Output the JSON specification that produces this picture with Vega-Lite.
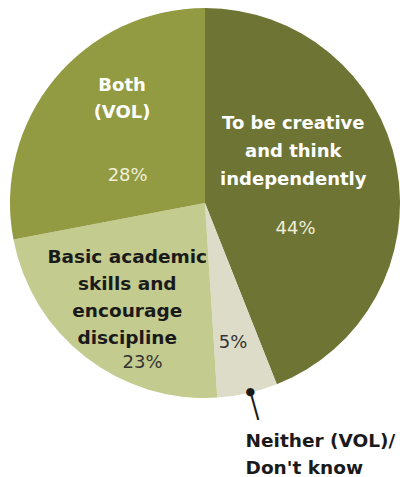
{
  "$schema": "https://vega.github.io/schema/vega-lite/v6.json",
  "width": 410,
  "height": 406,
  "autosize": {"type": "none"},
  "padding": {"left": 0, "top": 0, "right": -10, "bottom": 71},
  "background": "white",
  "config": {"view": {"stroke": null}},
  "data": {
    "values": [
      {"cat": "creative", "label": "To be creative\nand think\nindependently", "pct": 44, "pctText": "44%", "rank": 1},
      {"cat": "neither", "label": "Neither (VOL)/\nDon't know", "pct": 5, "pctText": "5%", "rank": 2},
      {"cat": "basic", "label": "Basic academic\nskills and\nencourage\ndiscipline", "pct": 23, "pctText": "23%", "rank": 3},
      {"cat": "both", "label": "Both\n(VOL)", "pct": 28, "pctText": "28%", "rank": 4}
    ]
  },
  "encoding": {
    "theta": {"field": "pct", "type": "quantitative", "stack": true},
    "order": {"field": "rank", "type": "quantitative"}
  },
  "layer": [
    {
      "mark": {"type": "arc", "outerRadius": 195},
      "encoding": {
        "color": {
          "field": "cat",
          "type": "nominal",
          "scale": {"domain": ["creative", "neither", "basic", "both"], "range": ["#6e7434", "#dcdcc8", "#c4cb8e", "#939b42"]},
          "legend": null
        }
      }
    },
    {
      "mark": {"type": "text", "radius": 209, "dx": 4, "dy": 0, "angle": 344.6, "fontSize": 26, "font": "DejaVu Sans", "fill": "#1a1a1a", "align": "center", "baseline": "middle"},
      "encoding": {"text": {"condition": {"test": "datum.cat === 'neither'", "value": "│"}, "value": ""}}
    },
    {
      "mark": {"type": "text", "radius": 194, "dx": 3, "dy": 0, "fontSize": 11, "font": "DejaVu Sans", "fill": "#1a1a1a", "align": "center", "baseline": "middle"},
      "encoding": {"text": {"condition": {"test": "datum.cat === 'neither'", "value": "●"}, "value": ""}}
    },
    {
      "mark": {"type": "text", "radius": 96, "dx": -6, "dy": -61, "fontSize": 18, "font": "DejaVu Sans", "fontWeight": "bold", "fill": "#ffffff", "align": "center", "baseline": "middle", "lineBreak": "\n", "lineHeight": 28},
      "encoding": {"text": {"condition": {"test": "datum.cat === 'creative'", "field": "label"}, "value": ""}}
    },
    {
      "mark": {"type": "text", "radius": 85, "dx": 7, "dy": 42, "fontSize": 18, "font": "DejaVu Sans", "fill": "#eeeed8", "align": "center", "baseline": "middle"},
      "encoding": {"text": {"condition": {"test": "datum.cat === 'creative'", "field": "pctText"}, "value": ""}}
    },
    {
      "mark": {"type": "text", "radius": 131, "dx": 18, "dy": -33, "fontSize": 18, "font": "DejaVu Sans", "fontWeight": "bold", "fill": "#ffffff", "align": "center", "baseline": "middle", "lineBreak": "\n", "lineHeight": 27},
      "encoding": {"text": {"condition": {"test": "datum.cat === 'both'", "field": "label"}, "value": ""}}
    },
    {
      "mark": {"type": "text", "radius": 77, "dx": -18, "dy": 22, "fontSize": 18, "font": "DejaVu Sans", "fill": "#eeeed8", "align": "center", "baseline": "middle"},
      "encoding": {"text": {"condition": {"test": "datum.cat === 'both'", "field": "pctText"}, "value": ""}}
    },
    {
      "mark": {"type": "text", "radius": 122, "dx": -3, "dy": -42, "fontSize": 18.5, "font": "DejaVu Sans", "fontWeight": "bold", "fill": "#1a1a1a", "align": "center", "baseline": "middle", "lineBreak": "\n", "lineHeight": 27},
      "encoding": {"text": {"condition": {"test": "datum.cat === 'basic'", "field": "label"}, "value": ""}}
    },
    {
      "mark": {"type": "text", "radius": 164, "dx": 38, "dy": 30, "fontSize": 18, "font": "DejaVu Sans", "fill": "#333333", "align": "center", "baseline": "middle"},
      "encoding": {"text": {"condition": {"test": "datum.cat === 'basic'", "field": "pctText"}, "value": ""}}
    },
    {
      "mark": {"type": "text", "radius": 142, "dx": -3, "dy": 1, "fontSize": 18, "font": "DejaVu Sans", "fill": "#333333", "align": "center", "baseline": "middle"},
      "encoding": {"text": {"condition": {"test": "datum.cat === 'neither'", "field": "pctText"}, "value": ""}}
    },
    {
      "mark": {"type": "text", "radius": 250, "dx": -14, "dy": -6, "fontSize": 18.5, "font": "DejaVu Sans", "fontWeight": "bold", "fill": "#1a1a1a", "align": "left", "baseline": "middle", "lineBreak": "\n", "lineHeight": 27},
      "encoding": {"text": {"condition": {"test": "datum.cat === 'neither'", "field": "label"}, "value": ""}}
    }
  ]
}
